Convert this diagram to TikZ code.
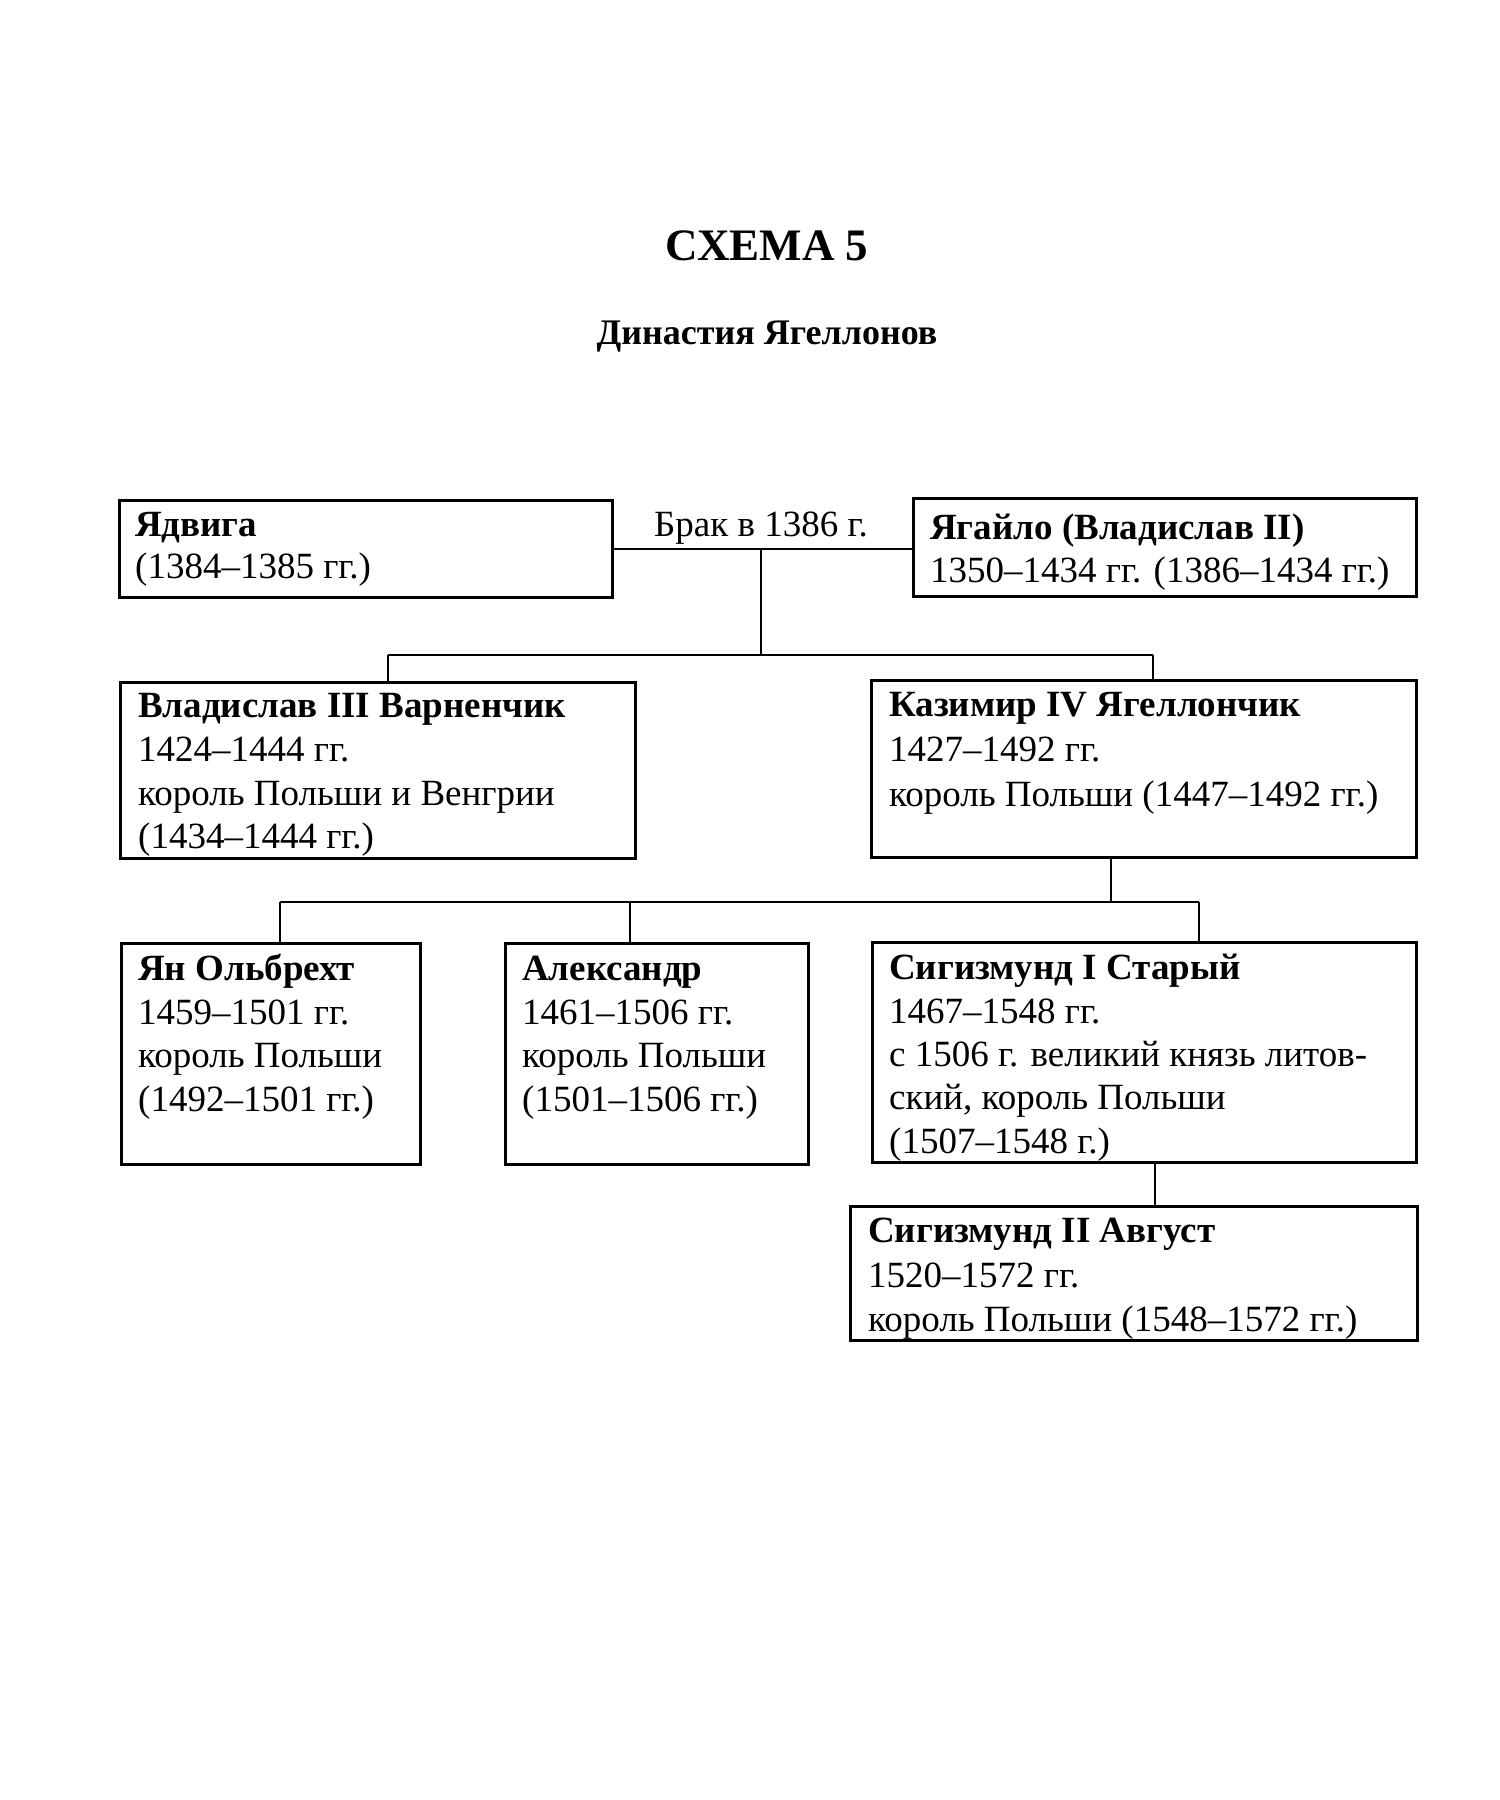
\documentclass[tikz,border=0pt]{standalone}
\usepackage{fontspec}
\setmainfont{Liberation Serif}
\begin{document}
\begin{tikzpicture}[x=1pt,y=-1pt,
  box/.style={draw, line width=3pt, inner sep=0pt, anchor=north west},
  ln/.style={line width=2.8pt},
  txt/.style={anchor=base west, inner sep=0pt, font=\fontsize{37}{44}\selectfont},
  nm/.style={txt, font=\fontsize{37}{44}\selectfont\bfseries}]
\useasboundingbox[fill=white] (0,0) rectangle (1500,1800);

% titles
\node[anchor=base, inner sep=0pt, font=\fontsize{45}{54}\selectfont\bfseries] (title) at (767,260) {СХЕМА 5};
\node[anchor=base, inner sep=0pt, font=\fontsize{36}{42}\selectfont\bfseries] (sub) at (767,344) {Династия Ягеллонов};

% boxes
\node[box, minimum width=493pt, minimum height=97pt] (jad) at (118,499) {};
\node[box, minimum width=503pt, minimum height=98pt] (jag) at (912,497) {};
\node[box, minimum width=515pt, minimum height=176pt] (vlad) at (119,681) {};
\node[box, minimum width=545pt, minimum height=177pt] (kaz) at (870,679) {};
\node[box, minimum width=299pt, minimum height=221pt] (yan) at (120,942) {};
\node[box, minimum width=303pt, minimum height=221pt] (ale) at (504,942) {};
\node[box, minimum width=544pt, minimum height=220pt] (sig1) at (871,941) {};
\node[box, minimum width=567pt, minimum height=134pt] (sig2) at (849,1205) {};

% texts
\node[nm] (jad1) at (135,536) {Ядвига};
\node[txt] (jad2) at (135,578) {(1384–1385 гг.)};

\node[txt, anchor=base] (brak) at (761,536) {Брак в 1386 г.};

\node[nm] (jag1) at (930,539) {Ягайло (Владислав II)};
\node[txt] (jag2) at (930,582) {1350–1434 гг. (1386–1434 гг.)};

\node[nm] (vlad1) at (138,717) {Владислав III Варненчик};
\node[txt] (vlad2) at (138,761) {1424–1444 гг.};
\node[txt] (vlad3) at (138,805) {король Польши и Венгрии};
\node[txt] (vlad4) at (138,848) {(1434–1444 гг.)};

\node[nm] (kaz1) at (889,716) {Казимир IV Ягеллончик};
\node[txt] (kaz2) at (889,761) {1427–1492 гг.};
\node[txt] (kaz3) at (889,806) {король Польши (1447–1492 гг.)};

\node[nm] (yan1) at (138,980) {Ян Ольбрехт};
\node[txt] (yan2) at (138,1024) {1459–1501 гг.};
\node[txt] (yan3) at (138,1067) {король Польши};
\node[txt] (yan4) at (138,1111) {(1492–1501 гг.)};

\node[nm] (ale1) at (522,980) {Александр};
\node[txt] (ale2) at (522,1024) {1461–1506 гг.};
\node[txt] (ale3) at (522,1067) {король Польши};
\node[txt] (ale4) at (522,1111) {(1501–1506 гг.)};

\node[nm] (sig11) at (889,979) {Сигизмунд I Старый};
\node[txt] (sig12) at (889,1023) {1467–1548 гг.};
\node[txt] (sig13) at (889,1066) {с 1506 г. великий князь литов-};
\node[txt] (sig14) at (889,1109) {ский, король Польши};
\node[txt] (sig15) at (889,1153) {(1507–1548 г.)};

\node[nm] (sig21) at (868,1242) {Сигизмунд II Август};
\node[txt] (sig22) at (868,1287) {1520–1572 гг.};
\node[txt] (sig23) at (868,1331) {король Польши (1548–1572 гг.)};

% connectors
\coordinate (m0) at (761,549);
\coordinate (j1) at (761,655);
\coordinate (v1) at (388,655);
\coordinate (k1) at (1153,655);
\draw[ln] (jad.east |- m0) -- (jag.west |- m0);
\draw[ln] (m0) -- (j1);
\draw[ln] (v1) -- (k1);
\draw[ln] (v1) -- (v1 |- vlad.north);
\draw[ln] (k1) -- (k1 |- kaz.north);

\coordinate (k2) at (1111,902);
\coordinate (y1) at (280,902);
\coordinate (a1) at (630,902);
\coordinate (s1) at (1199,902);
\draw[ln] (k2 |- kaz.south) -- (k2);
\draw[ln] (y1) -- (s1);
\draw[ln] (y1) -- (y1 |- yan.north);
\draw[ln] (a1) -- (a1 |- ale.north);
\draw[ln] (s1) -- (s1 |- sig1.north);

\coordinate (s2) at (1155,1183);
\draw[ln] (s2 |- sig1.south) -- (s2 |- sig2.north);
\end{tikzpicture}
\end{document}
